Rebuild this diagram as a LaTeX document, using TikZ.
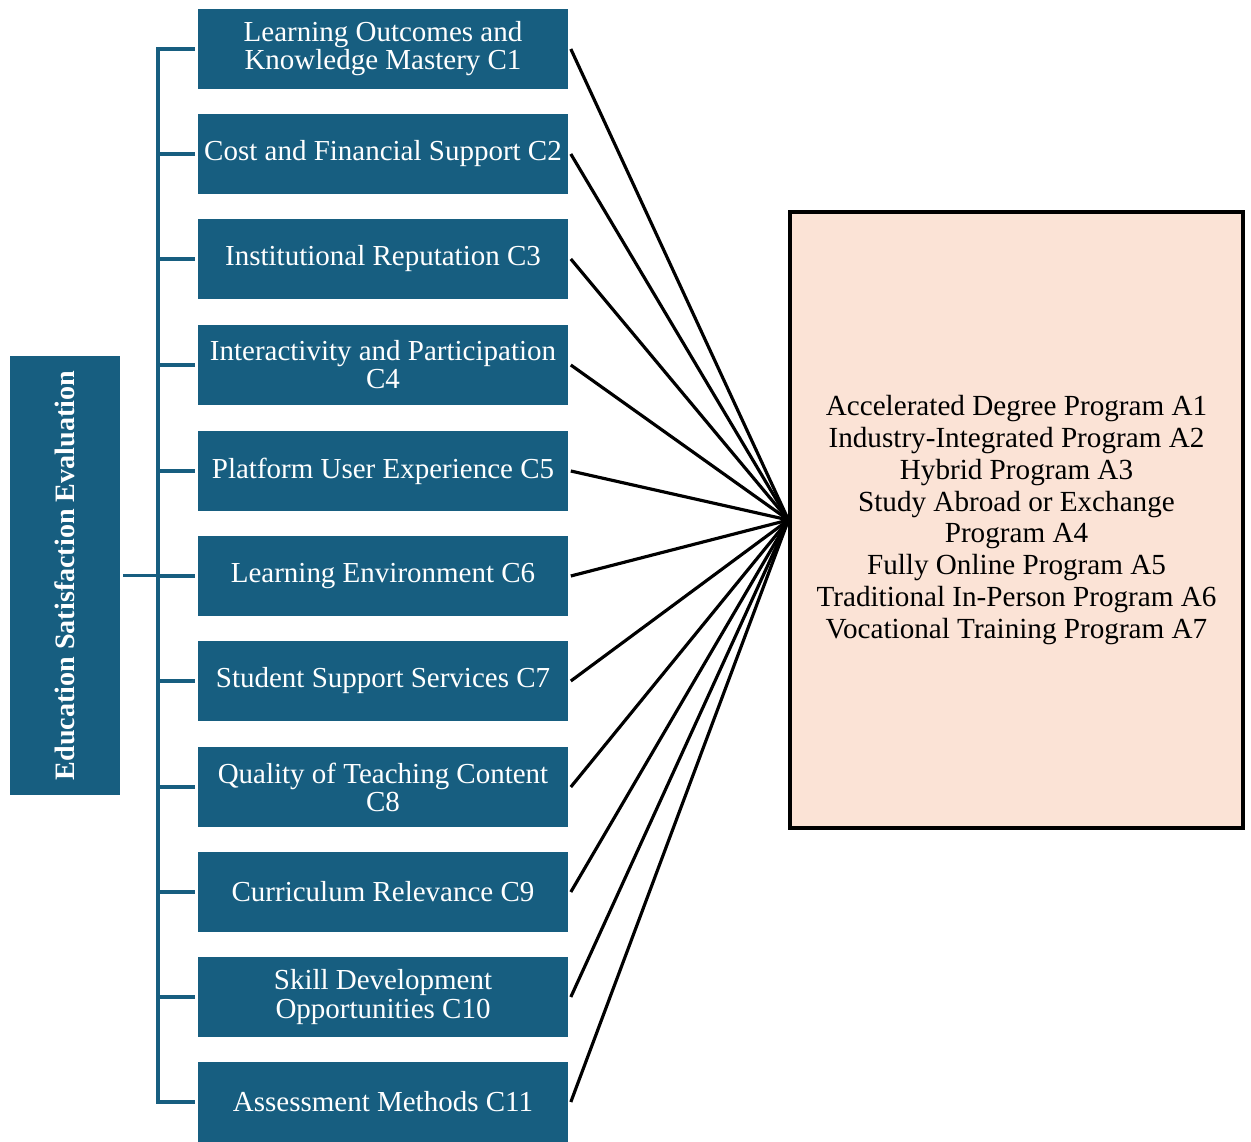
\documentclass[tikz,border=0pt]{standalone}
\usepackage{fontspec}
\setmainfont{Liberation Serif}
\definecolor{boxblue}{RGB}{23,94,128}
\definecolor{peach}{RGB}{251,227,214}
\begin{document}
\begin{tikzpicture}[x=0.02cm,y=-0.02cm,
  cbox/.style={fill=boxblue, text=white, minimum width=7.4cm, minimum height=1.6cm,
    inner sep=0pt, align=center, font=\fontsize{16.5}{16}\selectfont},
  ebox/.style={fill=boxblue, text=white, minimum width=2.2cm, minimum height=8.78cm,
    inner sep=0pt, font=\bfseries\fontsize{16}{16}\selectfont},
  abox/.style={draw=black, line width=1.8pt, fill=peach, minimum width=9.06cm,
    minimum height=12.32cm, inner sep=0pt, align=center,
    font=\fontsize{16.6}{18.1}\selectfont},
  link/.style={line width=1.8pt, draw=black},
  brack/.style={line width=2.2pt, draw=boxblue}]
\useasboundingbox (0,0) rectangle (1251,1142);
\node[cbox] (c1) at (383,49) {Learning Outcomes and\\Knowledge Mastery C1};
\node[cbox] (c2) at (383,154) {Cost and Financial Support C2};
\node[cbox] (c3) at (383,259) {Institutional Reputation C3};
\node[cbox] (c4) at (383,365) {Interactivity and Participation\\C4};
\node[cbox] (c5) at (383,471) {Platform User Experience C5};
\node[cbox] (c6) at (383,576) {Learning Environment C6};
\node[cbox] (c7) at (383,681) {Student Support Services C7};
\node[cbox] (c8) at (383,787) {Quality of Teaching Content\\C8};
\node[cbox] (c9) at (383,892) {Curriculum Relevance C9};
\node[cbox] (c10) at (383,997) {Skill Development\\Opportunities C10};
\node[cbox] (c11) at (383,1102) {Assessment Methods C11};
\node[ebox] (E) at (65,575.5) {\rotatebox{90}{Education Satisfaction Evaluation}};
\node[abox] (R) at (1016.5,520) {Accelerated Degree Program A1\\Industry-Integrated Program A2\\Hybrid Program A3\\Study Abroad or Exchange\\Program A4\\Fully Online Program A5\\Traditional In-Person Program A6\\Vocational Training Program A7};
% bracket
\draw[brack] ([xshift=-0.8cm]c1.west) -- ([xshift=-0.8cm]c11.west);
\foreach \i in {1,...,11}{
  \draw[brack] ([xshift=-0.83cm]c\i.west) -- ([xshift=-0.06cm]c\i.west);
}
\draw[brack] ([xshift=0.06cm]E.east) -- ([xshift=-0.8cm]E.east -| c6.west);
% connectors
\foreach \i in {1,...,11}{
  \draw[link] ([xshift=0.05cm]c\i.east) -- (R.west);
}
\end{tikzpicture}
\end{document}
